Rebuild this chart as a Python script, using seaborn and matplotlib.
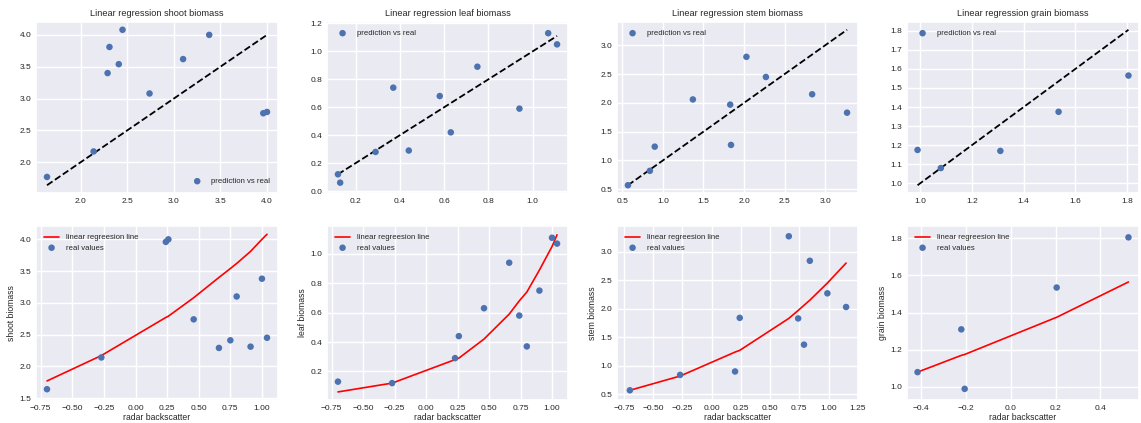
import matplotlib
matplotlib.use("Agg")
import matplotlib.pyplot as plt
from matplotlib.ticker import MultipleLocator
import seaborn as sns
import numpy as np

# ---- data ----
targets = ["shoot", "leaf", "stem", "grain"]

shoot_radar = [-0.70, -0.27, 0.24, 0.26, 0.46, 0.66, 0.75, 0.80, 0.91, 1.00, 1.04]
shoot_real = [1.64, 2.14, 3.96, 4.00, 2.74, 2.29, 2.41, 3.10, 2.31, 3.38, 2.45]
shoot_pred = [1.77, 2.17, 2.77, 2.79, 3.08, 3.40, 3.54, 3.62, 3.81, 4.00, 4.08]

leaf_radar = [-0.70, -0.27, 0.23, 0.26, 0.46, 0.66, 0.74, 0.80, 0.90, 1.00, 1.04]
leaf_real = [0.13, 0.12, 0.29, 0.44, 0.63, 0.94, 0.58, 0.37, 0.75, 1.11, 1.07]
leaf_pred = [0.06, 0.12, 0.28, 0.29, 0.42, 0.59, 0.68, 0.74, 0.89, 1.05, 1.13]

stem_radar = [-0.70, -0.27, 0.20, 0.24, 0.66, 0.74, 0.79, 0.84, 0.99, 1.15]
stem_real = [0.57, 0.84, 0.90, 1.84, 3.27, 1.83, 1.37, 2.84, 2.27, 2.03]
stem_pred = [0.57, 0.82, 1.24, 1.27, 1.83, 1.97, 2.06, 2.15, 2.45, 2.80]

grain_radar = [-0.415, -0.22, -0.205, 0.205, 0.525]
grain_real = [1.08, 1.31, 0.99, 1.535, 1.805]
grain_pred = [1.08, 1.17, 1.175, 1.375, 1.565]

radar = {"shoot": shoot_radar, "leaf": leaf_radar, "stem": stem_radar, "grain": grain_radar}
real = {"shoot": shoot_real, "leaf": leaf_real, "stem": stem_real, "grain": grain_real}
pred = {"shoot": shoot_pred, "leaf": leaf_pred, "stem": stem_pred, "grain": grain_pred}

top_legend_loc = {"shoot": "lower right", "leaf": "upper left", "stem": "upper left", "grain": "upper left"}

# ---- style ----
sns.set_theme(style="darkgrid")
plt.rcParams["font.family"] = ["Liberation Sans", "DejaVu Sans"]
TITLE_FS = 6.6
TICK_FS = 6.0
LABEL_FS = 6.2
LEG_FS = 5.6
BLUE = "#4C72B0"

W, H = 1141, 423
fig = plt.figure(figsize=(W / 100, H / 100), dpi=100)

lefts = [36, 327, 617, 907]
rights = [278, 568, 858, 1139]
top_row = (22, 193)
bot_row = (226, 400)


def make_ax(l, r, t, b):
    return fig.add_axes([l / W, 1 - b / H, (r - l) / W, (b - t) / H])


for i, name in enumerate(targets):
    # ---- top row: prediction vs real ----
    ax = make_ax(lefts[i], rights[i], *top_row)
    y = np.array(real[name])
    p = np.array(pred[name])
    sns.scatterplot(x=y, y=p, ax=ax, color=BLUE, s=22, edgecolor="none",
                    label="prediction vs real", zorder=3)
    sns.lineplot(x=[y.min(), y.max()], y=[y.min(), y.max()], ax=ax, color="black",
                 linestyle="--", linewidth=1.3, zorder=2)
    ax.set_title(f"Linear regression {name} biomass", fontsize=TITLE_FS, color=".15", pad=4)
    ax.tick_params(labelsize=TICK_FS, pad=3.5, length=0, colors=".15")
    ax.legend(loc=top_legend_loc[name], fontsize=LEG_FS, frameon=False,
              handletextpad=0.8, borderaxespad=0.6)
    if name == "leaf":
        ax.set_ylim(-0.014, 1.21)
    if name == "grain":
        ax.xaxis.set_major_locator(MultipleLocator(0.2))
        ax.yaxis.set_major_locator(MultipleLocator(0.1))

    # ---- bottom row: radar vs biomass ----
    ax2 = make_ax(lefts[i], rights[i], *bot_row)
    sns.lineplot(x=radar[name], y=pred[name], ax=ax2, color="red", linewidth=1.2,
                 estimator=None, sort=True, label="linear regreesion line", zorder=2)
    sns.scatterplot(x=radar[name], y=real[name], ax=ax2, color=BLUE, s=22,
                    edgecolor="none", label="real values", zorder=3)
    ax2.set_xlabel("radar backscatter", fontsize=LABEL_FS, color=".15", labelpad=1)
    ax2.set_ylabel(f"{name} biomass", fontsize=LABEL_FS, color=".15", labelpad=2)
    ax2.tick_params(labelsize=TICK_FS, pad=3.5, length=0, colors=".15")
    ax2.legend(loc="upper left", fontsize=LEG_FS, frameon=False,
               handletextpad=0.8, borderaxespad=0.6, labelspacing=0.4)
    if name == "shoot":
        ax2.set_ylim(1.47, 4.21)
    if name == "leaf":
        ax2.set_ylim(0.005, 1.19)
    if name == "stem":
        ax2.set_xlim(-0.81, 1.252)
        ax2.set_ylim(0.40, 3.45)
    if name == "grain":
        ax2.set_ylim(0.93, 1.866)
        ax2.yaxis.set_major_locator(MultipleLocator(0.2))
        ax2.xaxis.set_major_locator(MultipleLocator(0.2))

fig.savefig("out.png", dpi=100)
